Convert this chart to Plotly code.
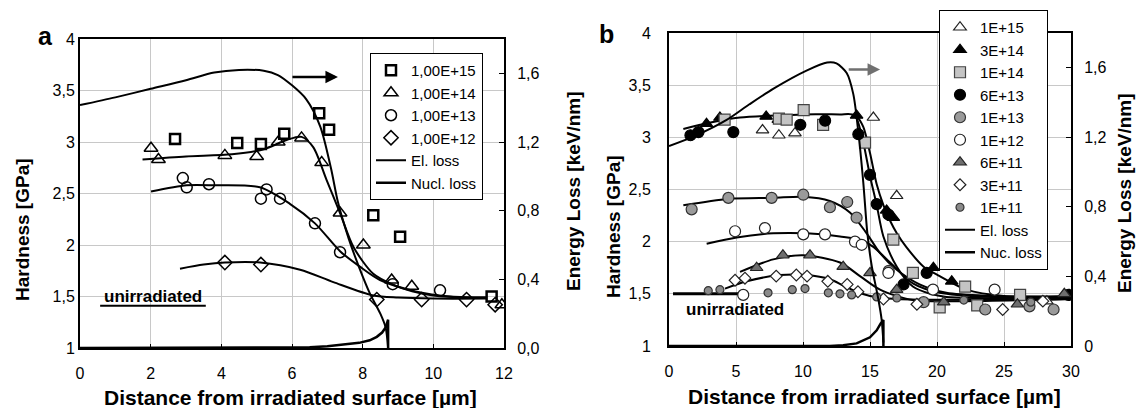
import plotly.graph_objects as go

# ---------------- Panel a data ----------------
a_x_e15 = [2.69, 4.45, 5.12, 5.78, 6.77, 7.05, 8.30, 9.06, 11.65]
a_h_e15 = [3.03, 2.99, 2.98, 3.08, 3.28, 3.12, 2.29, 2.08, 1.50]
a_x_e14 = [2.01, 2.22, 4.10, 5.00, 5.61, 6.27, 6.84, 7.36, 8.02, 8.82, 9.39, 11.94]
a_h_e14 = [2.94, 2.83, 2.87, 2.86, 3.00, 3.04, 2.80, 2.31, 2.00, 1.66, 1.60, 1.42]
a_x_e13 = [2.91, 3.02, 3.65, 5.12, 5.28, 5.66, 6.65, 7.36, 8.85, 10.19]
a_h_e13 = [2.65, 2.56, 2.59, 2.45, 2.54, 2.45, 2.21, 1.93, 1.62, 1.56]
a_x_e12 = [4.10, 5.12, 8.40, 9.67, 10.94, 11.75]
a_h_e12 = [1.83, 1.81, 1.47, 1.47, 1.47, 1.42]

fa_e14_x = [1.77, 3.0, 4.3, 5.2, 5.85, 6.27, 6.6, 6.98, 7.36, 7.74, 8.3, 8.82, 9.4, 10.0, 11.0, 11.5]
fa_e14_h = [2.83, 2.86, 2.88, 2.93, 3.02, 3.05, 2.95, 2.63, 2.31, 1.98, 1.72, 1.62, 1.55, 1.51, 1.49, 1.49]
fa_e13_x = [2.01, 3.02, 3.77, 5.09, 5.94, 6.65, 7.36, 7.92, 8.49, 9.5, 10.5, 11.5]
fa_e13_h = [2.52, 2.58, 2.58, 2.56, 2.40, 2.21, 1.94, 1.79, 1.66, 1.55, 1.50, 1.49]
fa_e12_x = [2.83, 3.5, 4.1, 5.1, 6.23, 7.17, 8.3, 9.0, 10.0, 11.5]
fa_e12_h = [1.77, 1.81, 1.83, 1.83, 1.76, 1.64, 1.51, 1.49, 1.48, 1.48]

a_el_x = [0, 1, 2, 3, 3.8, 4.5, 5.2, 5.6, 6.0, 6.4, 6.8, 7.1, 7.3, 7.6, 7.9, 8.2, 8.5, 8.65, 8.72]
a_el_e = [1.415, 1.46, 1.51, 1.56, 1.605, 1.62, 1.615, 1.59, 1.53, 1.45, 1.29, 1.05, 0.85, 0.64, 0.47, 0.32, 0.2, 0.12, 0.0]
a_nu_x = [0, 5.8, 6.5, 7.0, 7.5, 7.9, 8.2, 8.4, 8.55, 8.65, 8.72, 8.72]
a_nu_e = [0, 0, 0.004, 0.01, 0.02, 0.03, 0.045, 0.065, 0.09, 0.12, 0.165, 0.0]

a_legend = ["1,00E+15", "1,00E+14", "1,00E+13", "1,00E+12", "El. loss", "Nucl. loss"]

# ---------------- Panel b data ----------------
b_x_1e15 = [6.98, 8.2, 9.4, 15.25, 16.99, 28.2]
b_h_1e15 = [3.07, 3.02, 3.04, 3.19, 2.44, 1.43]
b_x_3e14 = [2.8, 3.8, 7.25, 8.16, 14.0, 16.24, 16.74, 19.73, 21.1, 29.9]
b_h_3e14 = [3.13, 3.19, 3.2, 3.17, 3.21, 2.3, 2.23, 1.75, 1.62, 1.49]
b_x_1e14 = [4.15, 8.2, 8.78, 10.05, 11.5, 14.63, 16.74, 18.2, 22.1, 26.2, 20.2, 23.0]
b_h_1e14 = [3.17, 3.18, 3.17, 3.26, 3.12, 2.95, 2.02, 1.70, 1.57, 1.49, 1.37, 1.39]
b_x_6e13 = [1.6, 2.2, 4.8, 9.8, 11.65, 14.13, 15.0, 15.5, 16.37, 17.5, 19.23, 29.8]
b_h_6e13 = [3.02, 3.05, 3.05, 3.12, 3.16, 3.03, 2.64, 2.36, 2.26, 1.59, 1.70, 1.49]
b_x_1e13 = [1.69, 4.43, 7.66, 10.02, 12.01, 13.3, 14.0, 16.4, 19.0, 23.6, 26.9, 28.7]
b_h_1e13 = [2.31, 2.42, 2.42, 2.45, 2.33, 2.38, 2.23, 1.72, 1.42, 1.35, 1.38, 1.35]
b_x_1e12 = [4.93, 5.54, 7.16, 10.02, 11.64, 13.88, 14.38, 16.37, 19.7, 24.3]
b_h_1e12 = [2.10, 1.49, 2.13, 2.07, 2.07, 2.00, 1.97, 1.70, 1.54, 1.54]
b_x_6e11 = [6.54, 8.5, 10.52, 13.0, 15.0, 16.99, 20.5, 26.0, 29.5]
b_h_6e11 = [1.75, 1.87, 1.87, 1.76, 1.70, 1.54, 1.42, 1.40, 1.50]
b_x_3e11 = [4.93, 5.67, 8.0, 9.5, 10.3, 11.85, 13.3, 14.1, 16.0, 18.5, 24.9, 27.9]
b_h_3e11 = [1.63, 1.65, 1.67, 1.68, 1.67, 1.62, 1.59, 1.52, 1.45, 1.40, 1.35, 1.43]
b_x_1e11 = [2.93, 3.8, 7.39, 9.2, 10.15, 11.89, 12.76, 13.63, 15.5, 17.0, 22.0, 27.0]
b_h_1e11 = [1.53, 1.54, 1.51, 1.54, 1.55, 1.51, 1.50, 1.49, 1.47, 1.46, 1.44, 1.42]

fb_a_x = [1.07, 3.0, 5.3, 8.0, 10.0, 12.76, 13.63, 14.0, 14.5, 15.0, 15.5, 16.0, 17.0, 18.2, 19.5, 20.7, 23, 26, 30]
fb_a_h = [3.08, 3.14, 3.19, 3.21, 3.22, 3.22, 3.22, 3.18, 2.95, 2.63, 2.35, 2.05, 1.76, 1.57, 1.50, 1.47, 1.46, 1.46, 1.47]
fb_b_x = [13.63, 14.0, 14.5, 15.0, 15.5, 16.0, 16.5, 17.0, 17.7, 19.0, 20.2, 22.2, 25, 30]
fb_b_h = [3.22, 3.2, 3.1, 2.85, 2.55, 2.35, 2.2, 2.08, 1.95, 1.76, 1.67, 1.54, 1.48, 1.48]
fb_13_x = [1.07, 4.43, 7.78, 10.02, 12.0, 13.5, 14.75, 15.75, 17.0, 18.7, 20.7, 24, 30]
fb_13_h = [2.35, 2.41, 2.42, 2.43, 2.39, 2.28, 2.08, 1.89, 1.73, 1.59, 1.51, 1.48, 1.47]
fb_12_x = [2.81, 5.05, 7.78, 10.28, 12.76, 14.25, 15.25, 16.5, 18.2, 20.2, 24, 30]
fb_12_h = [1.98, 2.04, 2.08, 2.08, 2.05, 2.02, 1.95, 1.80, 1.60, 1.51, 1.47, 1.46]
fb_611_x = [5.3, 7.78, 10.02, 12.76, 14.25, 15.75, 18.2, 22, 30]
fb_611_h = [1.71, 1.83, 1.87, 1.80, 1.67, 1.54, 1.44, 1.43, 1.45]
fb_311_x = [4.18, 5.8, 8.28, 10.28, 12.0, 13.0, 14.0, 15.0, 17.0, 30]
fb_311_h = [1.55, 1.62, 1.68, 1.68, 1.64, 1.58, 1.52, 1.48, 1.45, 1.45]

b_el_x = [0, 2, 4.3, 6, 7.8, 10.3, 11.8, 12.5, 13.26, 13.75, 14.13, 14.5, 14.8, 15.13, 15.62, 15.87, 16.0]
b_el_e = [1.15, 1.21, 1.30, 1.39, 1.48, 1.585, 1.63, 1.625, 1.57, 1.45, 1.23, 0.94, 0.65, 0.46, 0.27, 0.15, 0.02]
b_nu_x = [0, 12, 13, 14, 15, 15.5, 15.8, 16.0, 16.0]
b_nu_e = [0, 0, 0.005, 0.015, 0.05, 0.09, 0.13, 0.15, 0]

b_unirr_x = [0.3, 5.5]
b_unirr_h = [1.5, 1.5]

b_legend = ["1E+15", "3E+14", "1E+14", "6E+13", "1E+13", "1E+12", "6E+11", "3E+11", "1E+11", "El. loss", "Nuc. loss"]

FONT = "Liberation Sans, Arial, sans-serif"
fig = go.Figure()

def line(x, y, xa, ya, name=None, legend=None, show=False, rank=1000, width=2, shape="spline"):
    fig.add_trace(go.Scatter(x=x, y=y, xaxis=xa, yaxis=ya, mode="lines",
                             line=dict(color="black", width=width, shape=shape, smoothing=0.8),
                             name=name, showlegend=show, legend=legend, legendrank=rank,
                             hoverinfo="skip"))

def pts(x, y, xa, ya, name, legend, rank, symbol, size, fill, lc="black", lw=1.5):
    fig.add_trace(go.Scatter(x=x, y=y, xaxis=xa, yaxis=ya, mode="markers",
                             marker=dict(symbol=symbol, size=size, color=fill,
                                         line=dict(color=lc, width=lw)),
                             name=name, legend=legend, legendrank=rank, showlegend=True))

# Panel a lines
line(fa_e14_x, fa_e14_h, "x", "y")
line(fa_e13_x, fa_e13_h, "x", "y")
line(fa_e12_x, fa_e12_h, "x", "y")
# Panel a markers
pts(a_x_e15, a_h_e15, "x", "y", a_legend[0], "legend", 1, "square-open", 10, "black", lw=2.5)
pts(a_x_e14, a_h_e14, "x", "y", a_legend[1], "legend", 2, "triangle-up-open", 12, "black")
pts(a_x_e13, a_h_e13, "x", "y", a_legend[2], "legend", 3, "circle-open", 11, "black")
pts(a_x_e12, a_h_e12, "x", "y", a_legend[3], "legend", 4, "diamond-open", 11, "black")
line(a_el_x, a_el_e, "x", "y2", a_legend[4], "legend", True, 5)
line(a_nu_x, a_nu_e, "x", "y2", a_legend[5], "legend", True, 6, width=2.5, shape="linear")

# Panel b lines
line(fb_a_x, fb_a_h, "x2", "y3")
line(fb_b_x, fb_b_h, "x2", "y3")
line(fb_13_x, fb_13_h, "x2", "y3")
line(fb_12_x, fb_12_h, "x2", "y3")
line(fb_611_x, fb_611_h, "x2", "y3")
line(fb_311_x, fb_311_h, "x2", "y3")
line(b_unirr_x, b_unirr_h, "x2", "y3", width=3, shape="linear")
# Panel b markers
pts(b_x_1e15, b_h_1e15, "x2", "y3", b_legend[0], "legend2", 1, "triangle-up", 11, "white", "#222", 1.2)
pts(b_x_3e14, b_h_3e14, "x2", "y3", b_legend[1], "legend2", 2, "triangle-up", 11, "black", "black", 1.2)
pts(b_x_1e14, b_h_1e14, "x2", "y3", b_legend[2], "legend2", 3, "square", 11, "#c4c4c4", "#444", 1.2)
pts(b_x_6e13, b_h_6e13, "x2", "y3", b_legend[3], "legend2", 4, "circle", 11, "black", "black", 1.2)
pts(b_x_1e13, b_h_1e13, "x2", "y3", b_legend[4], "legend2", 5, "circle", 11, "#9a9a9a", "#333", 1.2)
pts(b_x_1e12, b_h_1e12, "x2", "y3", b_legend[5], "legend2", 6, "circle", 11, "white", "#222", 1.2)
pts(b_x_6e11, b_h_6e11, "x2", "y3", b_legend[6], "legend2", 7, "triangle-up", 11, "#6e6e6e", "#222", 1.2)
pts(b_x_3e11, b_h_3e11, "x2", "y3", b_legend[7], "legend2", 8, "diamond", 9, "white", "#222", 1.2)
pts(b_x_1e11, b_h_1e11, "x2", "y3", b_legend[8], "legend2", 9, "circle", 8, "#8a8a8a", "#333", 1.2)
line(b_el_x, b_el_e, "x2", "y4", b_legend[9], "legend2", True, 10)
line(b_nu_x, b_nu_e, "x2", "y4", b_legend[10], "legend2", True, 11, width=2.5, shape="linear")

tickfont = dict(family=FONT, size=16, color="black")
grid = "#c8c8c8"
xcommon = dict(showline=True, linecolor="black", linewidth=2, mirror=True, showgrid=True,
               gridcolor=grid, gridwidth=1, ticks="inside", ticklen=4, tickcolor="black",
               tickfont=tickfont, zeroline=False, ticklabelstandoff=10, automargin=False)
ycommon = dict(showline=True, linecolor="black", linewidth=2, showgrid=True, gridcolor=grid,
               gridwidth=1, ticks="", tickfont=tickfont, zeroline=False, automargin=False,
               range=[1, 4], tickvals=[1, 1.5, 2, 2.5, 3, 3.5, 4])
rcommon = dict(showline=True, linecolor="black", linewidth=2, showgrid=False, ticks="inside",
               ticklen=5, tickcolor="black", tickfont=tickfont, zeroline=False, automargin=False,
               range=[0, 1.8], side="right", ticklabelstandoff=8)

fig.update_layout(
    width=1136, height=408, margin=dict(l=0, r=0, t=0, b=0, pad=0, autoexpand=False),
    paper_bgcolor="white", plot_bgcolor="white", separators=",.",
    font=dict(family=FONT, color="black"),
    xaxis=dict(domain=[80/1136, 504/1136], range=[0, 12], tickvals=[0, 2, 4, 6, 8, 10, 12],
               anchor="y", **xcommon),
    yaxis=dict(domain=[1-348/408, 1-39/408], anchor="x", **ycommon),
    yaxis2=dict(overlaying="y", anchor="x", tickvals=[0, 0.4, 0.8, 1.2, 1.6],
                tickformat=".1f", **rcommon),
    xaxis2=dict(domain=[669/1136, 1071/1136], range=[0, 30], tickvals=[0, 5, 10, 15, 20, 25, 30],
                anchor="y3", **xcommon),
    yaxis3=dict(domain=[1-346/408, 1-33/408], anchor="x2", ticklabelstandoff=13, **ycommon),
    yaxis4=dict(overlaying="y3", anchor="x2", tickvals=[0, 0.4, 0.8, 1.2, 1.6],
                ticktext=["0", "0,4", "0,8", "1,2", "1,6"], **rcommon),
    legend=dict(x=370/1136, y=1-53/408, xanchor="left", yanchor="top", bgcolor="white",
                bordercolor="black", borderwidth=1, font=dict(family=FONT, size=15),
                tracegroupgap=0, itemwidth=30),
    legend2=dict(x=939/1136, y=1-10/408, xanchor="left", yanchor="top", bgcolor="white",
                 bordercolor="black", borderwidth=1, font=dict(family=FONT, size=15),
                 tracegroupgap=0, itemwidth=30),
    showlegend=True,
)

ann = [
    dict(text="<b>a</b>", x=45, y=36, font=dict(size=25)),
    dict(text="<b>b</b>", x=606, y=34, font=dict(size=25)),
    dict(text="<b>Hardness [GPa]</b>", x=22, y=230, textangle=-90, font=dict(size=19)),
    dict(text="<b>Energy Loss [keV/nm]</b>", x=573, y=191, textangle=-90, font=dict(size=19)),
    dict(text="<b>Hardness [GPa]</b>", x=613, y=227, textangle=-90, font=dict(size=19)),
    dict(text="<b>Energy Loss [keV/nm]</b>", x=1124, y=193, textangle=-90, font=dict(size=19)),
    dict(text="<b>Distance from irradiated surface [µm]</b>", x=290, y=397, font=dict(size=21)),
    dict(text="<b>Distance from irradiated surface [µm]</b>", x=874, y=396, font=dict(size=21)),
]
for a in ann:
    fig.add_annotation(x=a["x"]/1136, y=1-a["y"]/408, xref="paper", yref="paper",
                       text=a["text"], showarrow=False, textangle=a.get("textangle", 0),
                       font=dict(family=FONT, color="black", size=a["font"]["size"]),
                       xanchor="center", yanchor="middle")

fig.add_annotation(x=2.06, y=1.5, xref="x", yref="y", text="<b>unirradiated</b>", showarrow=False,
                   font=dict(family=FONT, size=17, color="black"))
fig.add_shape(type="line", x0=0.57, x1=3.56, y0=1.41, y1=1.41, xref="x", yref="y",
              line=dict(color="black", width=2))
fig.add_annotation(x=4.93, y=1.35, xref="x2", yref="y3", text="<b>unirradiated</b>", showarrow=False,
                   font=dict(family=FONT, size=17, color="black"))

# arrows
fig.add_annotation(x=7.3, y=3.63, ax=5.97, ay=3.63, xref="x", yref="y", axref="x", ayref="y",
                   text="", showarrow=True, arrowhead=2, arrowsize=1, arrowwidth=2.5,
                   arrowcolor="black")
fig.add_annotation(x=15.75, y=3.65, ax=13.3, ay=3.65, xref="x2", yref="y3", axref="x2", ayref="y3",
                   text="", showarrow=True, arrowhead=2, arrowsize=1, arrowwidth=2.5,
                   arrowcolor="#707070")

fig.write_html("out.html", config={"displayModeBar": False},
               post_script="document.body.style.margin='0';document.body.style.overflow='hidden';")
